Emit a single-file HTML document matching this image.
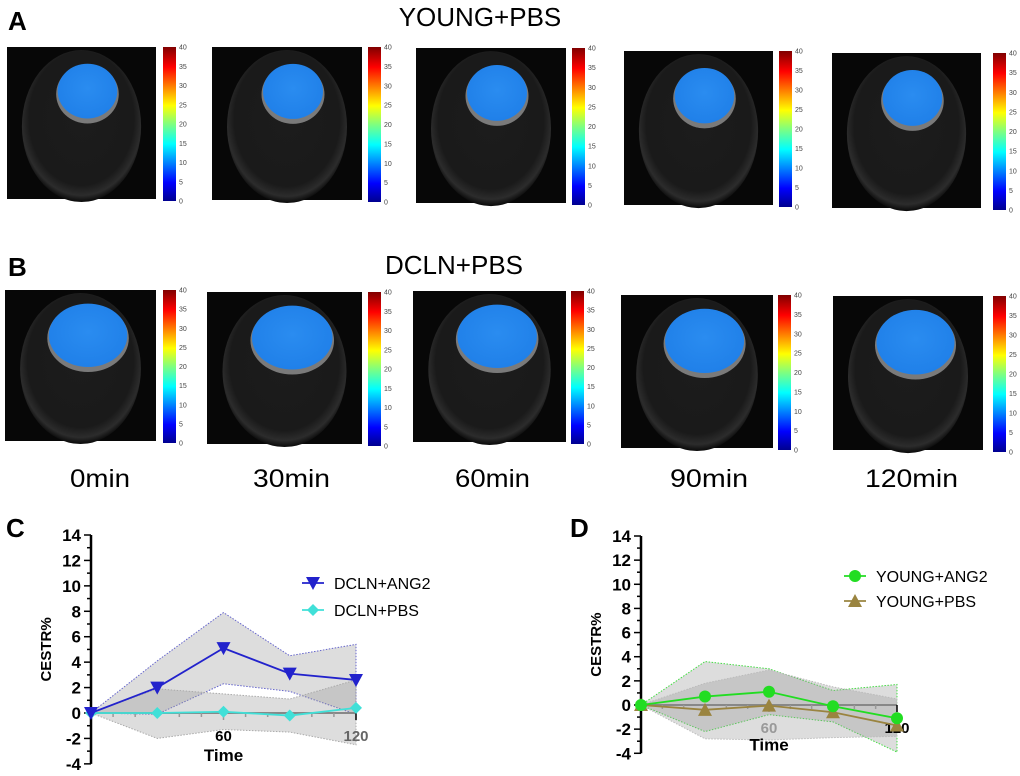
<!DOCTYPE html>
<html><head><meta charset="utf-8"><style>
body{margin:0;background:#fff;}
svg{display:block;font-family:"Liberation Sans",Arial,sans-serif;}
</style></head><body>
<svg id="fig" width="1020" height="776" viewBox="0 0 1020 776" xmlns="http://www.w3.org/2000/svg">
<defs>
<linearGradient id="jet" x1="0" y1="1" x2="0" y2="0">
<stop offset="0" stop-color="#00008f"/><stop offset="0.12" stop-color="#0000ff"/><stop offset="0.37" stop-color="#00ffff"/><stop offset="0.5" stop-color="#7fff7f"/><stop offset="0.62" stop-color="#ffff00"/><stop offset="0.87" stop-color="#ff0000"/><stop offset="1" stop-color="#800000"/>
</linearGradient>
<radialGradient id="head" cx="0.5" cy="0.45" r="0.55">
<stop offset="0" stop-color="#1c1c1c"/><stop offset="0.8" stop-color="#1a1a1a"/><stop offset="0.92" stop-color="#2c2c2c"/><stop offset="1" stop-color="#0a0a0a"/>
</radialGradient>
<radialGradient id="brain" cx="0.5" cy="0.45" r="0.6">
<stop offset="0" stop-color="#2a8cf0"/><stop offset="1" stop-color="#1f7fe8"/>
</radialGradient>
</defs>
<text x="8" y="30" font-size="26" font-weight="bold">A</text>
<text x="480" y="26" font-size="26" text-anchor="middle">YOUNG+PBS</text>
<text x="8" y="276" font-size="26" font-weight="bold">B</text>
<text x="454" y="274" font-size="26" text-anchor="middle">DCLN+PBS</text>
<text x="6" y="537" font-size="26" font-weight="bold">C</text>
<text x="570" y="537" font-size="26" font-weight="bold">D</text>
<g>
<text x="70" y="487" font-size="25" textLength="60" lengthAdjust="spacingAndGlyphs">0min</text>
<text x="253" y="487" font-size="25" textLength="77" lengthAdjust="spacingAndGlyphs">30min</text>
<text x="455" y="487" font-size="25" textLength="75" lengthAdjust="spacingAndGlyphs">60min</text>
<text x="670" y="487" font-size="25" textLength="78" lengthAdjust="spacingAndGlyphs">90min</text>
<text x="865" y="487" font-size="25" textLength="93" lengthAdjust="spacingAndGlyphs">120min</text>
</g>
<g id="mri"></g>
<g id="chartC"></g>
<g id="chartD"></g>
</svg>
<script>
var NS="http://www.w3.org/2000/svg";
function mk(p,t,a){var e=document.createElementNS(NS,t);for(var k in a)e.setAttribute(k,a[k]);p.appendChild(e);return e;}
var panelsA=[[7,47,149,152,163],[212,47,150,153,368],[416,48,150,155,572],[624,51,149,154,779],[832,53,149,155,993]];
var panelsB=[[5,290,151,151,163],[207,292,155,152,368],[413,291,153,151,571],[621,295,152,153,778],[833,296,150,154,993]];
var mri=document.getElementById('mri');
function panel(p,row){
  var x=p[0],y=p[1],w=p[2],h=p[3],cb=p[4];
  var g=mk(mri,'g',{});
  
  
  mk(g,'rect',{x:x,y:y,width:w,height:h,fill:'#070707'});
  mk(g,'ellipse',{cx:x+w*0.5,cy:y+h*0.52,rx:w*0.4,ry:h*0.5,fill:'url(#head)'});
  var bx,by,rx,ry;
  if(row==0){bx=x+w*0.54;by=y+h*0.29;rx=w*0.2;ry=h*0.18;}
  else{bx=x+w*0.55;by=y+h*0.3;rx=w*0.26;ry=h*0.21;}
  mk(g,'ellipse',{cx:bx,cy:by+3,rx:rx+1.5,ry:ry+2,fill:'#7a7a7a'});
  mk(g,'ellipse',{cx:bx,cy:by,rx:rx,ry:ry,fill:'url(#brain)'});
  mk(g,'rect',{x:cb,y:y,width:13,height:h+2,fill:'url(#jet)'});
  for(var i=0;i<=8;i++){
    var t=mk(g,'text',{x:cb+16,y:y+h+2-i*(h+2)/8+2.5,'font-size':7,fill:'#444'});
    t.textContent=String(i*5);
  }
}
panelsA.forEach(function(p){panel(p,0);});
panelsB.forEach(function(p){panel(p,1);});

var times=[0,30,60,90,120];
var cAng2=[0,2.0,5.1,3.1,2.6];
var cAng2Hi=[0,4.1,7.9,4.5,5.4];
var cAng2Lo=[0,-0.1,2.3,1.7,-0.1];
var cPbs=[0,0,0.1,-0.2,0.4];
var cPbsHi=[0,1.9,1.5,1.1,2.6];
var cPbsLo=[0,-2.0,-1.3,-1.5,-2.5];
var dAng2=[0,0.7,1.1,-0.1,-1.1];
var dAng2Hi=[0,3.6,3.0,1.2,1.7];
var dAng2Lo=[0,-2.2,-0.8,-1.4,-3.9];
var dPbs=[0,-0.4,-0.05,-0.6,-1.7];
var dPbsHi=[0,1.8,2.9,1.5,0.5];
var dPbsLo=[0,-2.8,-2.9,-2.7,-2.6];
var yTicks=[14,12,10,8,6,4,2,0,-2,-4];

function chart(gid,ax,x120,y0,yTop,series,legend,xlabColor){
  var g=document.getElementById(gid);
  var unit=(y0-yTop)/14;
  function X(t){return ax+t*(x120-ax)/120;}
  function Y(v){return y0-v*unit;}
  series.forEach(function(s){
    var pts=[];
    times.forEach(function(t,i){pts.push(X(t)+','+Y(s.hi[i]));});
    for(var i=times.length-1;i>=0;i--)pts.push(X(times[i])+','+Y(s.lo[i]));
    var b=mk(g,'polygon',{points:pts.join(' '),fill:'rgba(150,150,150,0.32)',stroke:s.bandStroke,'stroke-width':1,'stroke-dasharray':'1.5,1.5'});
    
    
  });
  mk(g,'line',{x1:ax,y1:Y(14),x2:ax,y2:Y(-4),stroke:'#000','stroke-width':2.5});
  mk(g,'line',{x1:ax,y1:y0,x2:x120,y2:y0,stroke:'#888','stroke-width':2});
  for(var t=10;t<=120;t+=10)mk(g,'line',{x1:X(t),y1:y0,x2:X(t),y2:y0+(t%60==0?7:4),stroke:t==120?'#000':'#999','stroke-width':1.5});
  for(var v=-4;v<=14;v++){
    mk(g,'line',{x1:ax-(v%2==0?7:4),y1:Y(v),x2:ax,y2:Y(v),stroke:'#000','stroke-width':1.5});
  }
  yTicks.forEach(function(v){
    var tx=mk(g,'text',{x:ax-10,y:Y(v)+6,'font-size':17,'font-weight':'bold','text-anchor':'end'});
    
    
    tx.textContent=String(v);
  });
  var yt=mk(g,'text',{transform:'translate('+(ax-40)+','+Y(5)+') rotate(-90)','font-size':15,'font-weight':'bold','text-anchor':'middle'});
  
  
  yt.textContent='CESTR%';
  [60,120].forEach(function(t){
    var tx=mk(g,'text',{x:X(t),y:y0+28,'font-size':15,'font-weight':'bold','text-anchor':'middle',fill:xlabColor[t]});
    
    
    tx.textContent=String(t);
  });
  var xt=mk(g,'text',{x:X(60),y:Y(-4)-3,'font-size':17,'font-weight':'bold','text-anchor':'middle'});
  
  
  xt.textContent='Time';
  function marker(pg,shape,x,y,c){
    if(shape=='tri-down')return mk(pg,'polygon',{points:(x-7)+','+(y-6)+' '+(x+7)+','+(y-6)+' '+x+','+(y+7),fill:c});
    if(shape=='tri-up')return mk(pg,'polygon',{points:(x-7)+','+(y+6)+' '+(x+7)+','+(y+6)+' '+x+','+(y-7),fill:c});
    if(shape=='diamond')return mk(pg,'polygon',{points:x+','+(y-6)+' '+(x+6)+','+y+' '+x+','+(y+6)+' '+(x-6)+','+y,fill:c});
    return mk(pg,'circle',{cx:x,cy:y,r:6,fill:c});
  }
  series.slice().reverse().forEach(function(s){
    var sg=mk(g,'g',{});
    
    
    var d=times.map(function(t,i){return (i?'L':'M')+X(t)+' '+Y(s.v[i]);}).join(' ');
    mk(sg,'path',{d:d,fill:'none',stroke:s.color,'stroke-width':1.8});
    times.forEach(function(t,i){
      var m=marker(sg,s.shape,X(t),Y(s.v[i]),s.color);
      
      
    });
  });
  series.forEach(function(s,i){
    var lg=mk(g,'g',{});
    
    
    var ly=legend[1]+i*legend[2];
    mk(lg,'line',{x1:legend[0],y1:ly,x2:legend[0]+22,y2:ly,stroke:s.color,'stroke-width':1.8});
    marker(lg,s.shape,legend[0]+11,ly,s.color);
    var tx=mk(lg,'text',{x:legend[0]+32,y:ly+6,'font-size':16});
    tx.textContent=s.name;
  });
}
chart('chartC',91,356,713,535,[
 {key:'dcln-ang2',name:'DCLN+ANG2',v:cAng2,hi:cAng2Hi,lo:cAng2Lo,color:'#2222cc',shape:'tri-down',bandStroke:'#6666cc'},
 {key:'dcln-pbs',name:'DCLN+PBS',v:cPbs,hi:cPbsHi,lo:cPbsLo,color:'#40e0d8',shape:'diamond',bandStroke:'#aaaaaa'}
],[302,583,27],{60:'#000',120:'#666'});
chart('chartD',641,897,705,536,[
 {key:'young-ang2',name:'YOUNG+ANG2',v:dAng2,hi:dAng2Hi,lo:dAng2Lo,color:'#22dd22',shape:'circle',bandStroke:'#44dd44'},
 {key:'young-pbs',name:'YOUNG+PBS',v:dPbs,hi:dPbsHi,lo:dPbsLo,color:'#9a8440',shape:'tri-up',bandStroke:'#bbbbbb'}
],[844,576,25],{60:'#999',120:'#000'});
</script>
</body></html>
